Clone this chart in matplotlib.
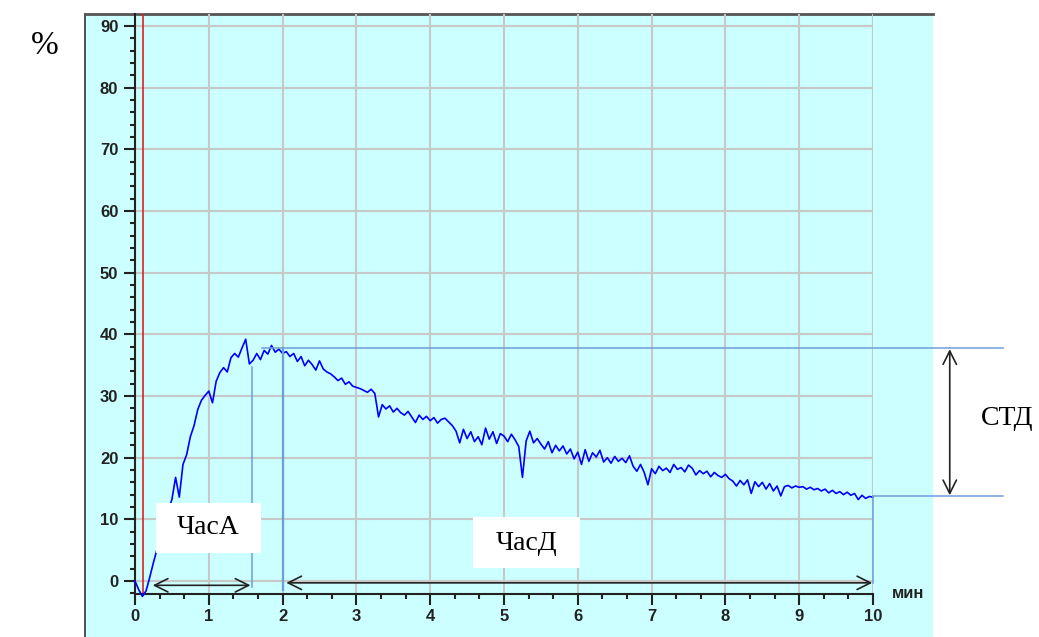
import numpy as np
import matplotlib
matplotlib.use("Agg")
import matplotlib.pyplot as plt
from matplotlib.patches import Rectangle
from matplotlib.ticker import MultipleLocator

# signal, % (one sample every 0.05 min)
signal = [
    0.0, -1.4, -2.5, -1.6, 0.6, 3.0, 5.2, 7.6, 9.8, 11.5,
    13.2, 16.8, 13.6, 18.9, 20.5, 23.4, 25.2, 27.8, 29.3, 30.1,
    30.8, 28.9, 32.4, 33.8, 34.6, 33.9, 36.2, 36.9, 36.3, 37.8,
    39.2, 35.2, 35.8, 36.9, 35.9, 37.4, 36.8, 38.2, 37.1, 37.6,
    36.9, 37.2, 36.4, 36.9, 35.6, 36.4, 34.9, 35.8, 35.1, 34.2,
    35.7, 34.4, 33.9, 33.6, 33.1, 32.5, 32.9, 31.9, 32.3, 31.6,
    31.4, 31.2, 30.9, 30.6, 31.1, 30.4, 26.6, 28.6, 27.9, 28.4,
    27.4, 28.0, 27.3, 26.9, 27.5, 26.6, 25.7, 26.9, 26.2, 26.7,
    26.0, 26.5, 25.6, 26.2, 26.4, 25.8, 25.2, 24.3, 22.4, 24.6,
    23.1, 24.2, 22.6, 23.4, 22.1, 24.8, 23.0, 24.2, 22.3, 23.9,
    23.5, 22.6, 23.8, 22.9, 21.8, 16.8, 22.7, 24.3, 22.4, 23.1,
    22.2, 21.4, 22.6, 20.8, 22.0, 21.1, 21.9, 20.6, 21.4, 19.8,
    20.9, 18.9, 21.3, 19.4, 20.8, 20.1, 21.2, 19.3, 20.0, 19.1,
    20.2, 19.4, 19.9, 19.2, 20.3, 18.6, 17.8, 18.9, 17.6, 15.6,
    18.2, 17.4, 18.6, 17.9, 18.3, 17.6, 18.9, 18.1, 18.4, 17.7,
    18.8, 18.3, 17.2, 17.9, 17.4, 17.8, 16.9, 17.6, 17.1, 16.8,
    17.3, 16.6, 16.2, 15.4, 16.3, 15.6, 16.4, 14.2, 16.1, 15.3,
    16.0, 14.9, 15.8, 14.6, 15.4, 13.8, 15.3, 15.5, 15.1, 15.4,
    15.2, 15.3, 14.9, 15.2, 14.8, 15.0, 14.6, 14.9, 14.3, 14.7,
    14.2, 14.5, 14.0, 14.4, 13.9, 14.2, 13.2, 13.9, 13.4, 13.7,
    13.6,
]
time_min = np.round(np.arange(len(signal)) * 0.05, 2)

start_mark = 0.11      # red start line
t_a = 1.585            # end of ЧасА
t_d0 = 2.0             # start of ЧасД
t_end = 10.0
level_max = 37.8
level_end = 13.8

CYAN = "#ccffff"
GUIDE = "#6d9eda"
INK = "#222222"

fig = plt.figure(figsize=(10.39, 6.37), dpi=100)

# cyan panel behind the plot
bg = fig.add_axes([85 / 1039, 0, (933 - 85) / 1039, (637 - 14) / 637])
bg.set_facecolor(CYAN)
bg.set_xticks([])
bg.set_yticks([])
for s in ["right", "bottom"]:
    bg.spines[s].set_visible(False)
bg.spines["top"].set_color("#555555")
bg.spines["top"].set_linewidth(2)
bg.spines["left"].set_color("#333333")
bg.spines["left"].set_linewidth(1.2)

ax = fig.add_axes([135 / 1039, 43 / 637, 738 / 1039, 580 / 637])
ax.set_facecolor("none")
ax.set_xlim(0, 10)
ax.set_ylim(-2.108, 91.95)

ax.xaxis.set_major_locator(MultipleLocator(1))
ax.xaxis.set_minor_locator(MultipleLocator(1 / 3))
ax.yaxis.set_major_locator(MultipleLocator(10))
ax.yaxis.set_minor_locator(MultipleLocator(2))
ax.grid(True, which="major", color="#c8c8c8", lw=1.5, zorder=0)
ax.set_axisbelow(True)

for s in ["top", "right"]:
    ax.spines[s].set_visible(False)
for s in ["left", "bottom"]:
    ax.spines[s].set_color(INK)
    ax.spines[s].set_linewidth(1.5)

ax.tick_params(which="major", length=8, width=1.5, color=INK, pad=3,
               labelsize=12, labelcolor=INK)
ax.tick_params(which="minor", length=3.6, width=1.5, color=INK)
ax.tick_params(axis="y", which="major", pad=4)
for lab in ax.get_xticklabels() + ax.get_yticklabels():
    lab.set_fontfamily("Liberation Sans")
    lab.set_fontweight("bold")

ax.text(10.47, -2.1, "мин", ha="center", va="center", fontsize=12,
        fontweight="bold", family="Liberation Sans", color=INK,
        clip_on=False)

# curve
ax.plot(time_min, signal, color="#0000ff", lw=1.2, zorder=3, clip_on=False)
ax.axvline(start_mark, color="#e02020", lw=1.2, zorder=2)

# guide lines
gkw = dict(color=GUIDE, lw=1.1, clip_on=False, zorder=4)
ax.plot([t_a, t_a], [-1.0, 34.7], **gkw)
ax.plot([t_d0, t_d0], [-1.5, level_max], color=GUIDE, lw=1.6,
        clip_on=False, zorder=4)
ax.plot([1.72, 11.76], [level_max, level_max], **gkw)
ax.plot([t_end, 11.76], [level_end, level_end], **gkw)
ax.plot([t_end, t_end], [-0.3, level_end], **gkw)

# arrows
akw = dict(arrowstyle="<->,head_length=0.6,head_width=0.3",
           color=INK, lw=1.2, mutation_scale=16, shrinkA=0, shrinkB=0)
ax.annotate("", xy=(0.24, -0.7), xytext=(t_a - 0.02, -0.7),
            arrowprops=akw, annotation_clip=False, zorder=6)
ax.annotate("", xy=(2.05, -0.3), xytext=(t_end - 0.01, -0.3),
            arrowprops=akw, annotation_clip=False, zorder=6)
ax.annotate("", xy=(11.04, level_max - 0.2), xytext=(11.04, level_end + 0.1),
            arrowprops=akw, annotation_clip=False, zorder=6)

# label boxes
ax.add_patch(Rectangle((0.285, 4.54), 1.42, 8.11, facecolor="white",
                       edgecolor="none", zorder=5, clip_on=False))
ax.text(0.996, 8.6, "ЧасА", ha="center", va="center", fontsize=20,
        family="Liberation Serif", zorder=6)
ax.add_patch(Rectangle((4.58, 2.1), 1.45, 8.3, facecolor="white",
                       edgecolor="none", zorder=5, clip_on=False))
ax.text(5.3, 6.1, "ЧасД", ha="center", va="center", fontsize=20,
        family="Liberation Serif", zorder=6)

ax.text(11.46, 26.4, "СТД", ha="left", va="center", fontsize=20,
        family="Liberation Serif", clip_on=False)
fig.text(45 / 1039, 1 - 46 / 637, "%", ha="center", va="center",
         fontsize=24, family="Liberation Serif")

fig.savefig("out.png", dpi=100)
